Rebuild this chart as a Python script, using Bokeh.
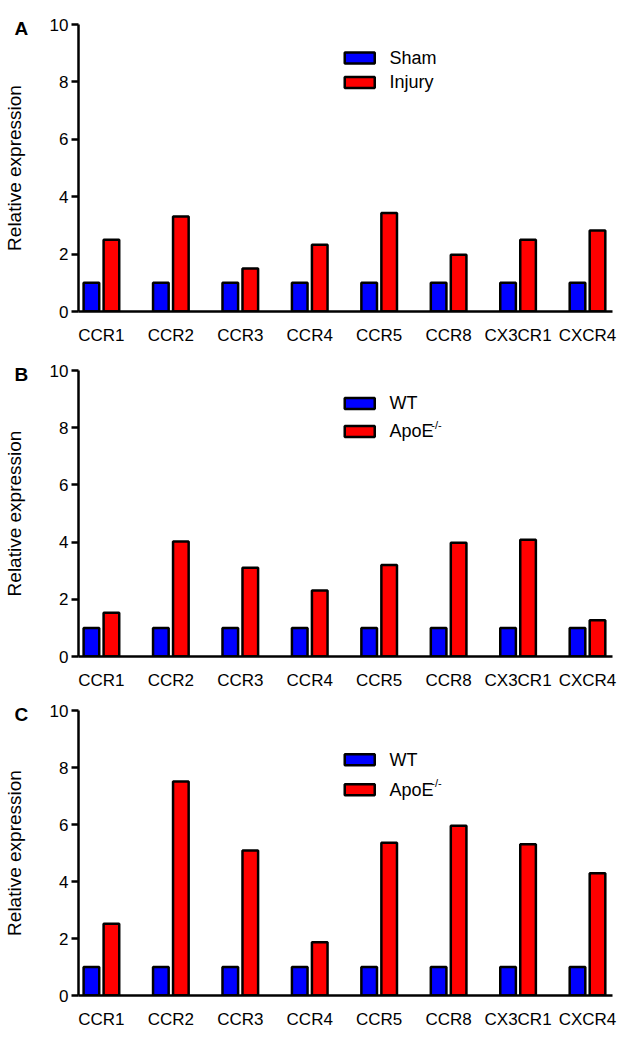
from bokeh.plotting import figure
from bokeh.layouts import column
from bokeh.models import FixedTicker, Range1d, Title
from bokeh.core.properties import value
from bokeh.embed import file_html
from bokeh.resources import INLINE

categories = ["CCR1", "CCR2", "CCR3", "CCR4", "CCR5", "CCR8", "CX3CR1", "CXCR4"]

a_sham = [1, 1, 1, 1, 1, 1, 1, 1]
a_injury = [2.5, 3.31, 1.5, 2.33, 3.43, 1.98, 2.5, 2.82]

b_wt = [1, 1, 1, 1, 1, 1, 1, 1]
b_apoe = [1.53, 4.02, 3.1, 2.31, 3.2, 3.98, 4.08, 1.27]

c_wt = [1, 1, 1, 1, 1, 1, 1, 1]
c_apoe = [2.52, 7.51, 5.09, 1.87, 5.36, 5.96, 5.31, 4.29]

y_ticks = [0, 2, 4, 6, 8, 10]

FONT = "Liberation Sans"
BLUE = "#0000FF"
RED = "#FF0000"


def panel(letter, s1, s2, name1, name2, sup2, height, top, bottom, leg_y1, leg_y2):
    p = figure(width=618, height=height, output_backend="svg", toolbar_location=None,
               x_range=Range1d(-0.33, 7.36), y_range=Range1d(0, 10),
               min_border_left=77, min_border_right=6,
               min_border_top=top, min_border_bottom=bottom)
    p.outline_line_color = None
    p.xgrid.visible = False
    p.ygrid.visible = False
    p.background_fill_color = "white"
    p.border_fill_color = "white"

    # panel letter
    p.add_layout(Title(text=letter, align="left", offset=-64, standoff=-28,
                       text_font=FONT, text_font_style="bold",
                       text_font_size="19px", text_color="black"), "above")

    xs = list(range(len(categories)))
    off = 0.144
    p.vbar(x=[x - off for x in xs], top=s1, width=0.225, fill_color=BLUE,
           line_color="black", line_width=2.5)
    p.vbar(x=[x + off for x in xs], top=s2, width=0.225, fill_color=RED,
           line_color="black", line_width=2.5)

    # y axis
    ya = p.yaxis[0]
    ya.ticker = FixedTicker(ticks=y_ticks)
    ya.minor_tick_line_color = None
    ya.major_tick_out = 7
    ya.major_tick_in = 0
    ya.major_tick_line_width = 2.5
    ya.axis_line_width = 2.5
    ya.major_label_text_font = FONT
    ya.major_label_text_font_size = "17px"
    ya.major_label_text_color = "black"
    ya.major_label_standoff = 3
    ya.axis_label = "Relative expression"
    ya.axis_label_text_font = FONT
    ya.axis_label_text_font_style = "normal"
    ya.axis_label_text_font_size = "19px"
    ya.axis_label_text_color = "black"
    ya.axis_label_standoff = 22

    # x axis
    xa = p.xaxis[0]
    xa.ticker = FixedTicker(ticks=xs)
    xa.major_label_overrides = {i: c for i, c in enumerate(categories)}
    xa.minor_tick_line_color = None
    xa.major_tick_out = 0
    xa.major_tick_in = 0
    xa.axis_line_width = 2.5
    xa.major_label_text_font = FONT
    xa.major_label_text_font_size = "17px"
    xa.major_label_text_color = "black"
    xa.major_label_standoff = 14

    # legend
    sx = 3.72
    p.rect(x=[sx, sx], y=[leg_y1, leg_y2], width=30, height=11,
           width_units="screen", height_units="screen",
           fill_color=[BLUE, RED], line_color="black", line_width=2.5)
    tx = 4.15
    p.text(x=[tx, tx], y=[leg_y1, leg_y2], text=[name1, name2],
           text_font=value(FONT), text_font_size="18px",
           text_baseline="middle", text_align="left", text_color="black")
    if sup2:
        p.text(x=[tx + 0.6], y=[leg_y2 + 0.22], text=[sup2],
               text_font=value(FONT), text_font_size="11px",
               text_baseline="middle", text_align="left", text_color="black")
    return p


pa = panel("A", a_sham, a_injury, "Sham", "Injury", None, 350, 24, 39, 8.83, 7.98)
pb = panel("B", b_wt, b_apoe, "WT", "ApoE", "-/-", 342, 20, 36, 8.85, 7.87)
pc = panel("C", c_wt, c_apoe, "WT", "ApoE", "-/-", 344, 18, 41, 8.27, 7.22)

layout = column(pa, pb, pc, spacing=0)
open("out.html", "w").write(file_html(layout, INLINE))
